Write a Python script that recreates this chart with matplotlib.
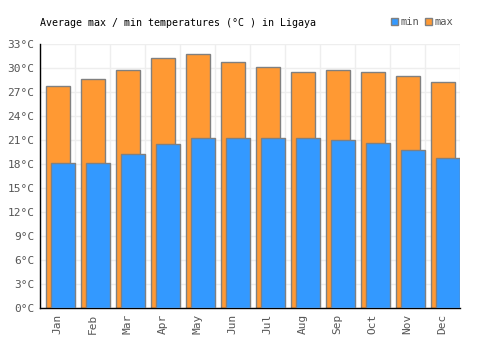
import matplotlib
matplotlib.use("Agg")
import matplotlib.pyplot as plt
import numpy as np
from matplotlib.patches import Patch

months = ["Jan", "Feb", "Mar", "Apr", "May", "Jun",
          "Jul", "Aug", "Sep", "Oct", "Nov", "Dec"]
t_max = [27.7, 28.6, 29.8, 31.2, 31.7, 30.7, 30.1, 29.5, 29.7, 29.5, 29.0, 28.2]
t_min = [18.1, 18.1, 19.2, 20.5, 21.3, 21.3, 21.3, 21.3, 21.0, 20.6, 19.7, 18.8]
y_ticks = list(range(0, 34, 3))

plt.rcParams["font.family"] = "DejaVu Sans Mono"

fig = plt.figure(figsize=(5, 3.5), dpi=100)
ax = fig.add_axes([0.08, 0.12, 0.84, 0.754])

x = np.arange(len(months))
edge = "#808080"
ax.bar(x - 0.5 + 0.18, t_max, width=0.67, align="edge",
       color="#FF9933", edgecolor=edge, linewidth=1, zorder=2)
ax.bar(x - 0.5 + 0.32, t_min, width=0.68, align="edge",
       color="#3399FF", edgecolor=edge, linewidth=1, zorder=3)

ax.set_xlim(-0.5, 11.5)
ax.set_ylim(0, 33)
ax.set_yticks(y_ticks)
ax.set_yticklabels([f"{v}°C" for v in y_ticks])
ax.set_xticks(x)
ax.set_xticklabels(months, rotation=90)
ax.set_xticks(np.arange(-0.5, 12, 1), minor=True)

ax.grid(axis="y", which="major", color="#eeeeee", linewidth=1, zorder=0)
ax.grid(axis="x", which="minor", color="#eeeeee", linewidth=1, zorder=0)
ax.tick_params(axis="both", which="both", length=0, labelsize=8,
               labelcolor="#555555", pad=4)

for s in ["top", "right"]:
    ax.spines[s].set_visible(False)
for s in ["left", "bottom"]:
    ax.spines[s].set_color("black")
    ax.spines[s].set_linewidth(1)

fig.text(0.08, 0.935, "Average max / min temperatures (°C ) in Ligaya",
         fontsize=7.2, color="black", va="center", ha="left")

handles = [Patch(facecolor="#3399FF", edgecolor=edge, label="min"),
           Patch(facecolor="#FF9933", edgecolor=edge, label="max")]
fig.legend(handles=handles, loc="center right", bbox_to_anchor=(0.925, 0.937),
           ncol=2, frameon=False, fontsize=7.5, handlelength=0.7,
           handleheight=0.7, handletextpad=0.2, columnspacing=0.6,
           labelcolor="#555555")

fig.savefig("out.png", dpi=100)
